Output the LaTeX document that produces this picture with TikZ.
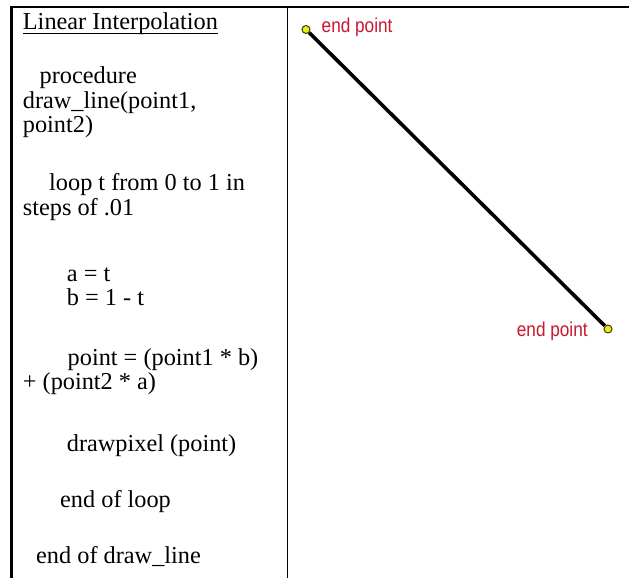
\documentclass[tikz,border=0pt]{standalone}
\usepackage{fontspec}
\setmainfont{Liberation Serif}
\newfontfamily\labelfont{Liberation Sans}
\usetikzlibrary{calc}
\definecolor{labelred}{RGB}{200,24,48}
\definecolor{dotyellow}{RGB}{235,235,20}
\definecolor{dotedge}{RGB}{60,60,20}
\newcommand{\narrowlabel}[1]{\scalebox{0.86}[1]{#1}}
\tikzset{
  codeline/.style={anchor=base west, inner sep=0pt, font=\fontsize{24.3}{28}\selectfont},
  endlabel/.style={anchor=base west, inner sep=0pt, text=labelred, font=\labelfont\fontsize{20}{22}\selectfont},
  enddot/.style={circle, fill=dotyellow, draw=dotedge, line width=1pt, minimum size=8pt, inner sep=0pt},
  rule/.style={draw=black, line cap=rect}
}
\begin{document}
\begin{tikzpicture}[x=1pt,y=-1pt]
\useasboundingbox[fill=white] (0,0) rectangle (629,578);
% table rules
\draw[rule, line width=2pt] (11,7.5) -- (629,7.5);
\draw[rule, line width=2.4pt] (11.3,7.5) -- (11.3,578);
\draw[rule, line width=1.3pt] (287.5,7.5) -- (287.5,578);
% left column text
\node[codeline] (l1) at (22.7,30) {Linear Interpolation};
\draw[line width=1.1pt] ($(l1.base west)+(0,3.2)$) -- ($(l1.base east)+(0,3.2)$);
\node[codeline] (l2) at (39.5,84) {procedure};
\node[codeline] (l3) at (22.7,108.5) {draw\_line(point1,};
\node[codeline] (l4) at (22.7,132.5) {point2)};
\node[codeline] (l5) at (49,190) {loop t from 0 to 1 in};
\node[codeline] (l6) at (22.7,215) {steps of .01};
\node[codeline] (l7) at (66.7,281) {a = t};
\node[codeline] (l8) at (66.7,305) {b = 1 - t};
\node[codeline] (l9) at (67.5,365) {point = (point1 * b)};
\node[codeline] (l10) at (22.7,389) {+ (point2 * a)};
\node[codeline] (l11) at (66.7,451) {drawpixel (point)};
\node[codeline] (l12) at (60,507) {end of loop};
\node[codeline] (l13) at (36,563) {end of draw\_line};
% right column drawing
\node[enddot] (p1) at (306,29.5) {};
\node[enddot] (p2) at (608,329) {};
\draw[line width=3.6pt, black] (p1) -- (p2);
\node[endlabel] (t1) at (321.5,32.3) {\narrowlabel{end point}};
\node[endlabel] (t2) at (516.7,336.7) {\narrowlabel{end point}};
\end{tikzpicture}
\end{document}
